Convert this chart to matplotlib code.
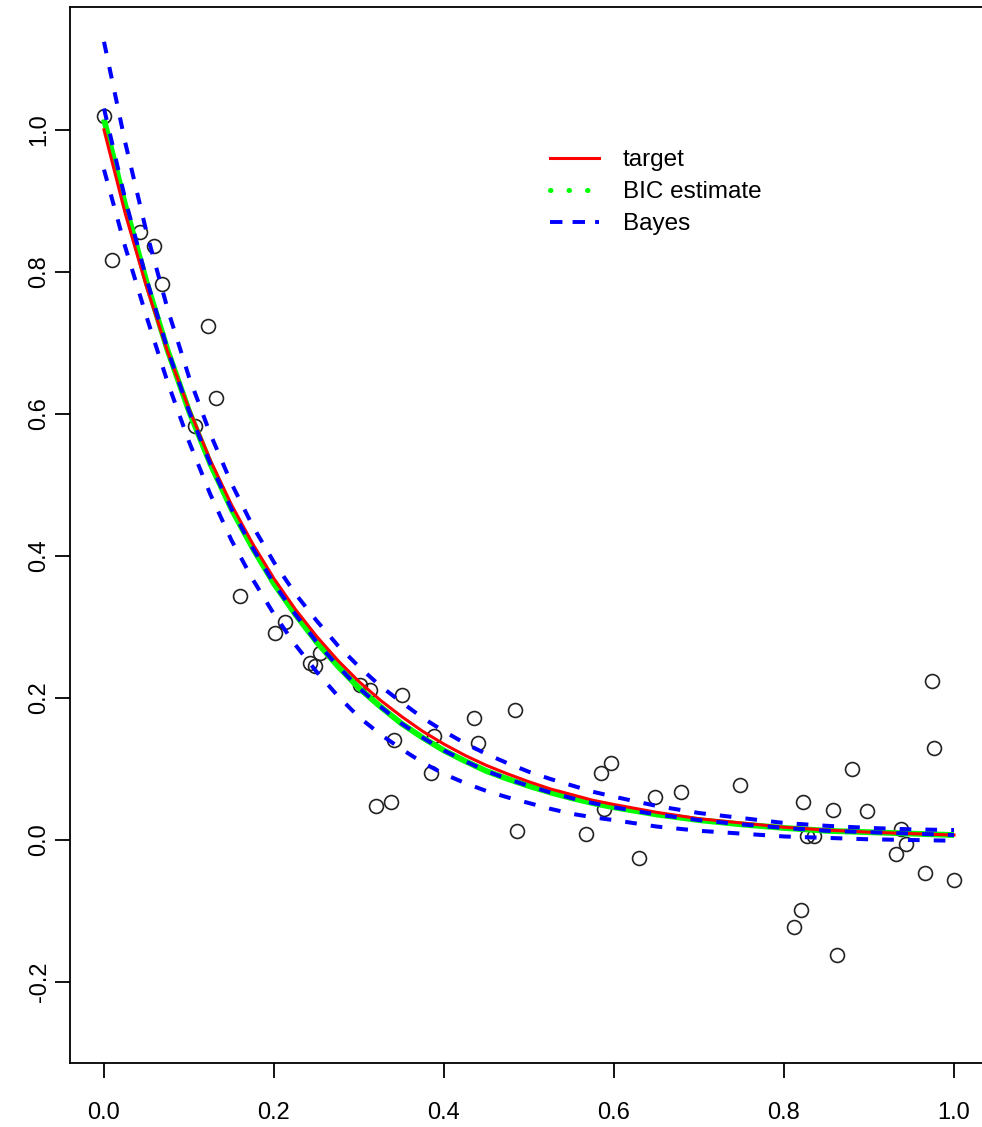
import matplotlib
matplotlib.use('Agg')
from matplotlib import pyplot as plt
from matplotlib.lines import Line2D

plt.rcParams['font.family'] = ['Liberation Sans', 'DejaVu Sans']
plt.rcParams['axes.unicode_minus'] = False

# observed points
x_obs = [0.000, 0.0098, 0.0424, 0.0589, 0.0680, 0.1221, 0.1319, 0.1072, 0.1602, 0.2014,
         0.2124, 0.2418, 0.2485, 0.2544, 0.3015, 0.3125, 0.3507, 0.3408, 0.3200, 0.3377,
         0.3852, 0.3879, 0.4350, 0.4402, 0.4841, 0.4861, 0.5666, 0.5842, 0.5968, 0.5881,
         0.6294, 0.6482, 0.6793, 0.7483, 0.8218, 0.8269, 0.8355, 0.8571, 0.8799, 0.8975,
         0.8202, 0.8115, 0.8626, 0.9737, 0.9764, 0.9380, 0.9435, 0.9314, 0.9655, 1.000]
y_obs = [1.019, 0.817, 0.856, 0.836, 0.783, 0.724, 0.622, 0.583, 0.344, 0.291,
         0.307, 0.249, 0.245, 0.263, 0.218, 0.211, 0.204, 0.141, 0.048, 0.054,
         0.095, 0.146, 0.172, 0.136, 0.183, 0.013, 0.008, 0.095, 0.109, 0.044,
         -0.025, 0.061, 0.067, 0.078, 0.054, 0.006, 0.006, 0.042, 0.100, 0.041,
         -0.099, -0.123, -0.162, 0.224, 0.130, 0.016, -0.006, -0.020, -0.046, -0.056]

# curves read at these x positions
x_grid = [0, 0.025, 0.05, 0.075, 0.1, 0.125, 0.15, 0.175, 0.2, 0.225, 0.25, 0.275,
          0.3, 0.325, 0.35, 0.375, 0.4, 0.425, 0.45, 0.475, 0.5, 0.525, 0.55, 0.575,
          0.6, 0.65, 0.7, 0.75, 0.8, 0.85, 0.9, 0.95, 1.0]
target = [1.000, 0.882, 0.779, 0.687, 0.607, 0.535, 0.472, 0.417, 0.368, 0.325, 0.287,
          0.253, 0.223, 0.197, 0.174, 0.153, 0.135, 0.119, 0.105, 0.093, 0.082, 0.072,
          0.064, 0.056, 0.050, 0.039, 0.030, 0.024, 0.018, 0.014, 0.011, 0.009, 0.007]
bic = [1.015, 0.894, 0.786, 0.689, 0.604, 0.530, 0.466, 0.411, 0.361, 0.318, 0.279,
       0.245, 0.214, 0.188, 0.164, 0.144, 0.126, 0.111, 0.097, 0.086, 0.076, 0.067,
       0.059, 0.052, 0.046, 0.036, 0.028, 0.022, 0.017, 0.013, 0.011, 0.009, 0.007]
bayes_mean = [1.030, 0.902, 0.790, 0.690, 0.604, 0.530, 0.466, 0.411, 0.361, 0.318, 0.279,
              0.245, 0.214, 0.188, 0.164, 0.144, 0.126, 0.111, 0.097, 0.086, 0.076, 0.067,
              0.059, 0.052, 0.046, 0.036, 0.028, 0.022, 0.017, 0.013, 0.011, 0.009, 0.007]
bayes_upper = [1.124, 0.982, 0.856, 0.747, 0.652, 0.572, 0.502, 0.442, 0.391, 0.347, 0.309,
               0.274, 0.244, 0.217, 0.194, 0.172, 0.153, 0.136, 0.121, 0.108, 0.096, 0.086,
               0.077, 0.068, 0.061, 0.048, 0.038, 0.031, 0.024, 0.020, 0.017, 0.015, 0.014]
bayes_lower = [0.944, 0.835, 0.737, 0.644, 0.561, 0.487, 0.422, 0.367, 0.318, 0.275, 0.237,
               0.203, 0.173, 0.149, 0.128, 0.109, 0.093, 0.080, 0.069, 0.060, 0.052, 0.044,
               0.037, 0.032, 0.028, 0.019, 0.013, 0.009, 0.005, 0.003, 0.001, 0.000, -0.001]

fig = plt.figure(figsize=(9.82, 11.27), dpi=100)
ax = fig.add_axes([70 / 982, 64 / 1127, 918 / 982, 1056 / 1127])

ax.plot(x_obs, y_obs, 'o', mfc='none', mec='#222222', ms=10, mew=1.2, zorder=2)

ax.plot(x_grid, bic, color='#00ff00', lw=4.2, solid_capstyle='butt', zorder=3)
ax.plot(x_grid, target, color='#ff0000', lw=2.2, zorder=4)
dash = (2.9, 3.5)
for curve in (bayes_mean, bayes_upper, bayes_lower):
    ax.plot(x_grid, curve, color='#0000ff', lw=2.9, dashes=dash, zorder=5)

ax.set_xlim(-0.04, 1.04)
ax.set_ylim(-0.314, 1.173)
ax.set_xticks([0.0, 0.2, 0.4, 0.6, 0.8, 1.0])
ax.set_yticks([-0.2, 0.0, 0.2, 0.4, 0.6, 0.8, 1.0])
ax.set_xticklabels(['0.0', '0.2', '0.4', '0.6', '0.8', '1.0'])
ax.set_yticklabels(['-0.2', '0.0', '0.2', '0.4', '0.6', '0.8', '1.0'],
                   rotation=90, va='center')
ax.tick_params(length=11, width=1.3, labelsize=17, direction='out')
ax.tick_params(axis='x', pad=17)
ax.tick_params(axis='y', pad=3)
for s in ax.spines.values():
    s.set_linewidth(1.3)

handles = [
    Line2D([], [], color='#ff0000', lw=2.2),
    Line2D([], [], color='#00ff00', lw=3.6, linestyle=(0, (0.1, 3.6)), dash_capstyle='round'),
    Line2D([], [], color='#0000ff', lw=2.8, dashes=(3.2, 2.6)),
]
ax.legend(handles, ['target', 'BIC estimate', 'Bayes'], loc='upper left',
          bbox_to_anchor=(550 / 982, 1 - 149 / 1127), bbox_transform=fig.transFigure,
          frameon=False, fontsize=17.5, borderpad=0, borderaxespad=0,
          handlelength=2.0, handletextpad=1.0, labelspacing=0.42)

plt.savefig('out.png', dpi=100)
